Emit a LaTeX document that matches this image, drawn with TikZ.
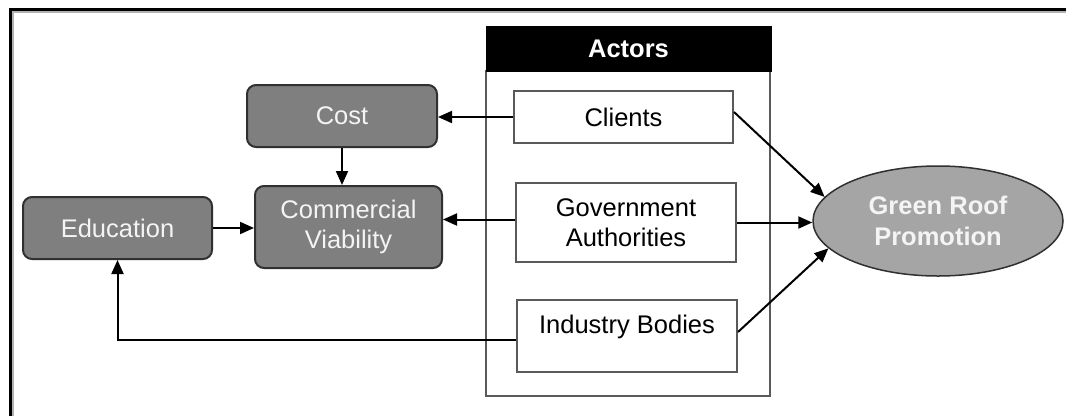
\documentclass[tikz,border=0pt]{standalone}
\usepackage{fontspec}
\setmainfont{Liberation Sans}
\usetikzlibrary{shapes.geometric,arrows.meta,calc}
\definecolor{boxgray}{HTML}{7F7F7F}
\definecolor{boxedge}{HTML}{303030}
\definecolor{ellgray}{HTML}{A5A5A5}
\definecolor{paletext}{HTML}{F4F4F4}
\definecolor{contline}{HTML}{5A5A5A}
\begin{document}
\begin{tikzpicture}[x=1pt,y=-1pt,
  every node/.style={font=\fontsize{25.5}{30.5}\selectfont, inner sep=0pt, align=center},
  factor/.style={draw=boxedge, line width=2pt, fill=boxgray, rounded corners=9pt, text=paletext},
  actor/.style={draw=boxedge!80, line width=2pt, fill=white, text=black},
  conn/.style={line width=2pt, -{Triangle[length=14pt,width=12pt]}},
]
\useasboundingbox (0,0) rectangle (1066,416);
% frame
\draw[gray!60, line width=1.5pt] (12.8,416) -- (12.8,12) -- (1066,12);
\draw[black, line width=3pt] (10.5,416) -- (10.5,9.5) -- (1066,9.5);

% factors
\node[factor, minimum width=190pt, minimum height=62pt] (cost) at (342,116) {Cost};
\node[factor, minimum width=187pt, minimum height=82pt] (cv) at (348.5,227) {Commercial\\Viability};
\node[factor, minimum width=189pt, minimum height=62pt] (edu) at (117.5,228) {Education};

% actors container
\node[draw=contline, line width=2pt, fill=white, minimum width=284pt, minimum height=325pt] (body) at (628,233.5) {};
\node[draw=black, line width=1pt, fill=black, text=white, font=\fontsize{25.5}{30.5}\selectfont\bfseries, minimum width=285pt, minimum height=45pt] (hdr) at (628.5,48.5) {Actors};

\node[actor, minimum width=219pt, minimum height=52pt] (cl) at (623.5,117) {Clients};
\node[actor, minimum width=220pt, minimum height=79pt] (gov) at (626,222.5) {Government\\Authorities};
\node[actor, minimum width=220pt, minimum height=72pt,
  label={[yshift=9pt, font=\fontsize{25.5}{30.5}\selectfont]center:Industry Bodies}] (ind) at (627,336) {};

% goal
\node[ellipse, draw=boxedge, line width=1.5pt, fill=ellgray, text=paletext,
  font=\fontsize{25.5}{30.5}\selectfont\bfseries,
  minimum width=250pt, minimum height=110pt] (gr) at (938,221) {Green Roof\\Promotion};

% connectors
\draw[conn] (cl.west) -- (cl.west -| cost.east);
\draw[conn] (cost.south) -- (cost.south |- cv.north);
\draw[conn] (edu.east) -- (edu.east -| cv.west);
\draw[conn] ([yshift=3pt]gov.west) -- ([yshift=3pt]gov.west -| cv.east);
\draw[conn] ([yshift=-4pt]ind.west) -| (edu.south);
\draw[conn] ([yshift=5pt]cl.east) -- (gr.168);
\draw[conn] (gov.east) -- (gov.east -| gr.west);
\draw[conn] ([yshift=4pt]ind.east) -- (gr.194);
\end{tikzpicture}
\end{document}
